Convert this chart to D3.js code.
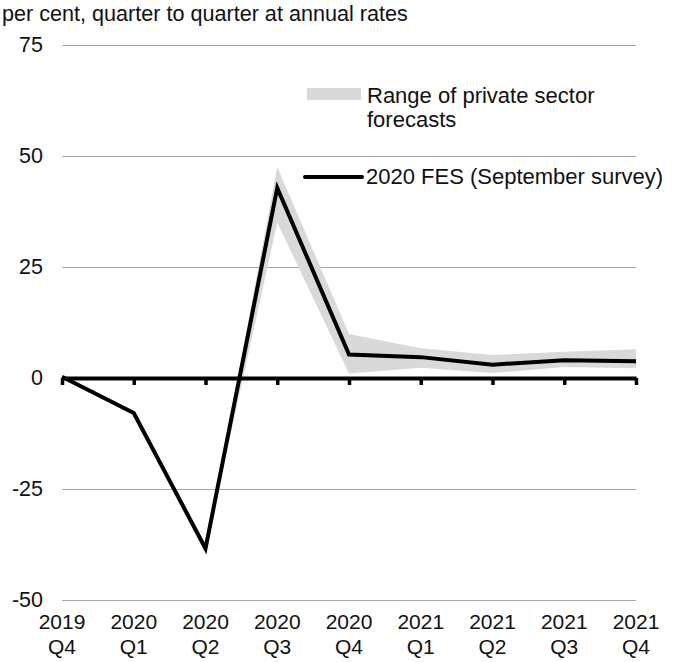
<!DOCTYPE html>
<html>
<head>
<meta charset="utf-8">
<script src="https://cdn.jsdelivr.net/npm/d3@7"></script>
<style>
  body { margin: 0; background: #fff; }
  svg { font-family: "Liberation Sans", Arial, sans-serif; }
</style>
</head>
<body>
<div id="vis"></div>
<script>
const quarters = ["2019 Q4", "2020 Q1", "2020 Q2", "2020 Q3", "2020 Q4", "2021 Q1", "2021 Q2", "2021 Q3", "2021 Q4"];
const fesValues = [0.3, -7.9, -38.4, 42.8, 5.3, 4.7, 3.0, 4.0, 3.8];
const rangeLow  = [0.3, -7.9, -38.4, 35.0, 1.0, 2.3, 1.1, 2.5, 2.2];
const rangeHigh = [0.3, -7.9, -38.4, 47.5, 9.9, 6.7, 5.2, 5.9, 6.5];
const yTicks = [-50, -25, 0, 25, 50, 75];

const width = 675, height = 662;
const margin = {top: 45, right: 39, bottom: 62, left: 62};

const svg = d3.select('#vis').append('svg')
    .attr('width', width)
    .attr('height', height);

const x = d3.scalePoint()
    .domain(quarters)
    .range([margin.left, width - margin.right]);

const y = d3.scaleLinear()
    .domain([-50, 75])
    .range([height - margin.bottom, margin.top]);

function label(g, tx, ty, str, size, anchor) {
    return g.append('text')
        .attr('x', tx)
        .attr('y', ty)
        .attr('text-anchor', anchor || 'start')
        .style('font-size', size + 'px')
        .attr('fill', '#111')
        .text(str);
}

// title
label(svg, 2, 21, 'per cent, quarter to quarter at annual rates', 21.6);

// gridlines + y labels
const yAxis = svg.append('g')
    .attr('transform', `translate(${margin.left},0)`)
    .call(d3.axisLeft(y).tickValues(yTicks).tickSize(-(width - margin.left - margin.right)).tickPadding(19).tickFormat(d => String(d)));
yAxis.select('.domain').remove();
yAxis.selectAll('.tick line').attr('stroke', '#a6a6a6').attr('stroke-width', 1);
yAxis.selectAll('.tick text')
    .style('font-size', '21.5px')
    .attr('fill', '#111')
    .attr('font-family', '"Liberation Sans", Arial, sans-serif');

// forecast range band
const idx = d3.range(quarters.length);
svg.append('path')
    .datum(idx)
    .attr('fill', '#d9d9d9')
    .attr('d', d3.area()
        .x(i => x(quarters[i]))
        .y0(i => y(rangeLow[i]))
        .y1(i => y(rangeHigh[i])));

// zero axis with ticks
const xAxis = svg.append('g')
    .attr('transform', `translate(0,${y(0)})`)
    .call(d3.axisBottom(x).tickSize(7).tickSizeOuter(0).tickFormat(''));
xAxis.select('.domain').attr('stroke', '#000').attr('stroke-width', 4);
xAxis.selectAll('.tick line').attr('stroke', '#000').attr('stroke-width', 3.5);

// x labels (two lines)
const xLab = svg.append('g');
quarters.forEach(q => {
    const parts = q.split(' ');
    label(xLab, x(q), 629, parts[0], 21, 'middle');
    label(xLab, x(q), 654, parts[1], 21, 'middle');
});

// FES line
svg.append('path')
    .datum(idx)
    .attr('fill', 'none')
    .attr('stroke', '#000')
    .attr('stroke-width', 4)
    .attr('stroke-linejoin', 'miter')
    .attr('d', d3.line()
        .x(i => x(quarters[i]))
        .y(i => y(fesValues[i])));

// legend
const legend = svg.append('g');
legend.append('rect')
    .attr('x', 307).attr('y', 88)
    .attr('width', 54).attr('height', 12)
    .attr('fill', '#d9d9d9');
label(legend, 367, 103, 'Range of private sector', 22);
label(legend, 367, 127, 'forecasts', 22);
legend.append('line')
    .attr('x1', 305).attr('x2', 362)
    .attr('y1', 177).attr('y2', 177)
    .attr('stroke', '#000').attr('stroke-width', 4)
    .attr('stroke-linecap', 'round');
label(legend, 366, 184, '2020 FES (September survey)', 22);
</script>
</body>
</html>
